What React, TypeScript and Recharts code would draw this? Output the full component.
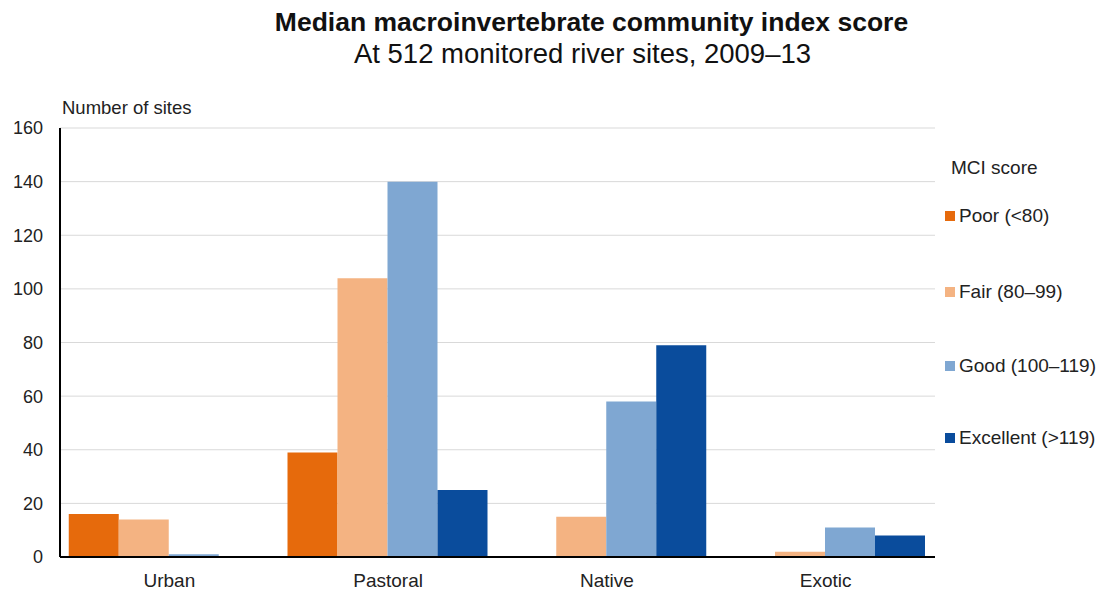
import { BarChart, Bar, XAxis, YAxis, CartesianGrid } from 'recharts'

const categories = ['Urban', 'Pastoral', 'Native', 'Exotic']
const poor = [16, 39, 0, 0]
const fair = [14, 104, 15, 2]
const good = [1, 140, 58, 11]
const excellent = [0, 25, 79, 8]
const yTicks = [0, 20, 40, 60, 80, 100, 120, 140, 160]

const series = [
  { key: 'poor', name: 'Poor (<80)', color: '#E66A0C' },
  { key: 'fair', name: 'Fair (80–99)', color: '#F4B382' },
  { key: 'good', name: 'Good (100–119)', color: '#7FA7D2' },
  { key: 'excellent', name: 'Excellent (>119)', color: '#0A4C9C' },
]

const data = categories.map((c, i) => ({
  name: c,
  poor: poor[i],
  fair: fair[i],
  good: good[i],
  excellent: excellent[i],
}))

const font = '"Liberation Sans", Arial, sans-serif'

// legend rows, centre y of each
const legendY = [216, 292, 366, 438]

export default function App() {
  return (
    <div style={{ position: 'absolute', left: 0, top: 0, width: 1103, height: 590, background: '#fff', fontFamily: font }}>
      <div style={{ position: 'absolute', left: 0, width: 1183, top: 7, textAlign: 'center', fontSize: 26.5, fontWeight: 'bold', color: '#111' }}>
        Median macroinvertebrate community index score
      </div>
      <div style={{ position: 'absolute', left: 0, width: 1165, top: 38, textAlign: 'center', fontSize: 27.5, color: '#111' }}>
        At 512 monitored river sites, 2009–13
      </div>
      <div style={{ position: 'absolute', left: 62, top: 97, fontSize: 18.5, color: '#222' }}>Number of sites</div>
      <BarChart
        width={1103}
        height={590}
        data={data}
        margin={{ top: 128, right: 168, bottom: 3, left: 0 }}
        barCategoryGap="4%"
        barGap={0}
      >
        <CartesianGrid vertical={false} stroke="#d9d9d9" />
        <XAxis
          dataKey="name"
          axisLine={{ stroke: '#000', strokeWidth: 2 }}
          tickLine={false}
          tickMargin={11}
          height={30}
          tick={{ fill: '#222', fontSize: 19, fontFamily: font }}
        />
        <YAxis
          width={60}
          domain={[0, 160]}
          ticks={yTicks}
          interval={0}
          axisLine={{ stroke: '#000', strokeWidth: 2 }}
          tickLine={false}
          tickMargin={11}
          tick={{ fill: '#222', fontSize: 18, fontFamily: font }}
        />
        {series.map((s) => (
          <Bar key={s.key} dataKey={s.key} name={s.name} fill={s.color} isAnimationActive={false} />
        ))}
      </BarChart>
      <div style={{ position: 'absolute', left: 951, top: 157, fontSize: 19, color: '#222' }}>MCI score</div>
      {series.map((s, i) => (
        <div
          key={s.key}
          style={{ position: 'absolute', left: 945, top: legendY[i] - 11, height: 22, display: 'flex', alignItems: 'center', fontSize: 19, color: '#222', whiteSpace: 'nowrap' }}
        >
          <span style={{ width: 10, height: 10, background: s.color, marginRight: 4, display: 'inline-block' }} />
          {s.name}
        </div>
      ))}
    </div>
  )
}
